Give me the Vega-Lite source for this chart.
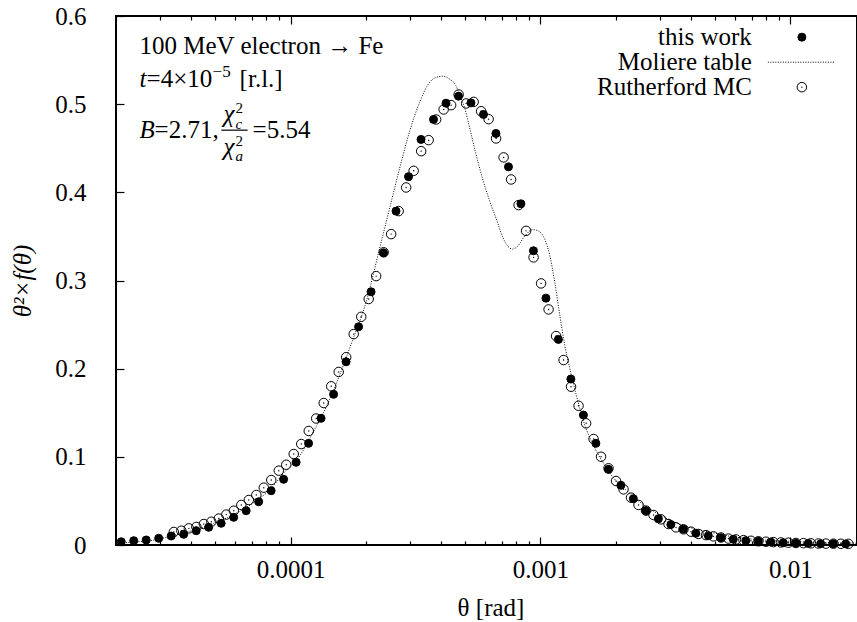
{
  "$schema": "https://vega.github.io/schema/vega-lite/v6.json",
  "width": 741,
  "height": 529,
  "autosize": {"type": "none"},
  "padding": {"left": 116, "top": 16, "right": 0, "bottom": 77},
  "background": "white",
  "config": {
    "font": "Liberation Serif",
    "view": {"stroke": "black", "strokeWidth": 2},
    "axis": {
      "labelFont": "Liberation Serif", "labelFontSize": 25, "labelColor": "black",
      "tickColor": "black", "tickWidth": 1.2, "domain": false, "grid": false,
      "titleFont": "Liberation Serif", "titleFontSize": 25, "titleColor": "black", "titleFontWeight": "normal",
      "labelFlush": false, "labelOverlap": false
    },
    "text": {"font": "Liberation Serif", "fontSize": 25, "color": "black", "align": "left", "baseline": "alphabetic"}
  },
  "data": {
    "values": [
      {"series": "this work", "theta": 2.099e-5, "value": 0.0037},
      {"series": "this work", "theta": 2.355e-5, "value": 0.0049},
      {"series": "this work", "theta": 2.642e-5, "value": 0.0057},
      {"series": "this work", "theta": 2.965e-5, "value": 0.0076},
      {"series": "this work", "theta": 3.327e-5, "value": 0.0102},
      {"series": "this work", "theta": 3.733e-5, "value": 0.0121},
      {"series": "this work", "theta": 4.188e-5, "value": 0.0162},
      {"series": "this work", "theta": 4.699e-5, "value": 0.0201},
      {"series": "this work", "theta": 5.272e-5, "value": 0.0246},
      {"series": "this work", "theta": 5.916e-5, "value": 0.0314},
      {"series": "this work", "theta": 6.638e-5, "value": 0.0389},
      {"series": "this work", "theta": 7.448e-5, "value": 0.0491},
      {"series": "this work", "theta": 8.356e-5, "value": 0.0616},
      {"series": "this work", "theta": 9.376e-5, "value": 0.0745},
      {"series": "this work", "theta": 1.052e-4, "value": 0.0938},
      {"series": "this work", "theta": 1.180e-4, "value": 0.1153},
      {"series": "this work", "theta": 1.324e-4, "value": 0.1437},
      {"series": "this work", "theta": 1.486e-4, "value": 0.1709},
      {"series": "this work", "theta": 1.667e-4, "value": 0.2078},
      {"series": "this work", "theta": 1.871e-4, "value": 0.2475},
      {"series": "this work", "theta": 2.099e-4, "value": 0.2872},
      {"series": "this work", "theta": 2.355e-4, "value": 0.3314},
      {"series": "this work", "theta": 2.642e-4, "value": 0.3787},
      {"series": "this work", "theta": 2.965e-4, "value": 0.4178},
      {"series": "this work", "theta": 3.327e-4, "value": 0.46},
      {"series": "this work", "theta": 3.733e-4, "value": 0.4827},
      {"series": "this work", "theta": 4.188e-4, "value": 0.5011},
      {"series": "this work", "theta": 4.699e-4, "value": 0.5091},
      {"series": "this work", "theta": 5.272e-4, "value": 0.5015},
      {"series": "this work", "theta": 5.916e-4, "value": 0.4884},
      {"series": "this work", "theta": 6.638e-4, "value": 0.4668},
      {"series": "this work", "theta": 7.448e-4, "value": 0.4289},
      {"series": "this work", "theta": 8.356e-4, "value": 0.387},
      {"series": "this work", "theta": 9.376e-4, "value": 0.3337},
      {"series": "this work", "theta": 1.052e-3, "value": 0.28},
      {"series": "this work", "theta": 1.180e-3, "value": 0.2332},
      {"series": "this work", "theta": 1.324e-3, "value": 0.1882},
      {"series": "this work", "theta": 1.486e-3, "value": 0.1474},
      {"series": "this work", "theta": 1.667e-3, "value": 0.1153},
      {"series": "this work", "theta": 1.871e-3, "value": 0.0858},
      {"series": "this work", "theta": 2.099e-3, "value": 0.0677},
      {"series": "this work", "theta": 2.355e-3, "value": 0.0525},
      {"series": "this work", "theta": 2.642e-3, "value": 0.0389},
      {"series": "this work", "theta": 2.965e-3, "value": 0.0297},
      {"series": "this work", "theta": 3.327e-3, "value": 0.0232},
      {"series": "this work", "theta": 3.733e-3, "value": 0.0179},
      {"series": "this work", "theta": 4.188e-3, "value": 0.0133},
      {"series": "this work", "theta": 4.699e-3, "value": 0.0105},
      {"series": "this work", "theta": 5.272e-3, "value": 0.0083},
      {"series": "this work", "theta": 5.916e-3, "value": 0.0065},
      {"series": "this work", "theta": 6.638e-3, "value": 0.0049},
      {"series": "this work", "theta": 7.448e-3, "value": 0.0042},
      {"series": "this work", "theta": 8.356e-3, "value": 0.0034},
      {"series": "this work", "theta": 9.376e-3, "value": 0.0026},
      {"series": "this work", "theta": 1.052e-2, "value": 0.0020},
      {"series": "this work", "theta": 1.180e-2, "value": 0.0018},
      {"series": "this work", "theta": 1.324e-2, "value": 0.0015},
      {"series": "this work", "theta": 1.486e-2, "value": 0.0014},
      {"series": "this work", "theta": 1.667e-2, "value": 0.0012},

      {"series": "Rutherford MC", "theta": 3.409e-5, "value": 0.0148},
      {"series": "Rutherford MC", "theta": 3.653e-5, "value": 0.0162},
      {"series": "Rutherford MC", "theta": 3.914e-5, "value": 0.0189},
      {"series": "Rutherford MC", "theta": 4.194e-5, "value": 0.0205},
      {"series": "Rutherford MC", "theta": 4.494e-5, "value": 0.0238},
      {"series": "Rutherford MC", "theta": 4.815e-5, "value": 0.0264},
      {"series": "Rutherford MC", "theta": 5.160e-5, "value": 0.030},
      {"series": "Rutherford MC", "theta": 5.529e-5, "value": 0.0345},
      {"series": "Rutherford MC", "theta": 5.924e-5, "value": 0.0389},
      {"series": "Rutherford MC", "theta": 6.348e-5, "value": 0.0454},
      {"series": "Rutherford MC", "theta": 6.802e-5, "value": 0.051},
      {"series": "Rutherford MC", "theta": 7.289e-5, "value": 0.0567},
      {"series": "Rutherford MC", "theta": 7.810e-5, "value": 0.065},
      {"series": "Rutherford MC", "theta": 8.368e-5, "value": 0.0737},
      {"series": "Rutherford MC", "theta": 8.967e-5, "value": 0.0843},
      {"series": "Rutherford MC", "theta": 9.607e-5, "value": 0.091},
      {"series": "Rutherford MC", "theta": 1.029e-4, "value": 0.1032},
      {"series": "Rutherford MC", "theta": 1.103e-4, "value": 0.1145},
      {"series": "Rutherford MC", "theta": 1.182e-4, "value": 0.1293},
      {"series": "Rutherford MC", "theta": 1.266e-4, "value": 0.1435},
      {"series": "Rutherford MC", "theta": 1.357e-4, "value": 0.161},
      {"series": "Rutherford MC", "theta": 1.454e-4, "value": 0.18},
      {"series": "Rutherford MC", "theta": 1.558e-4, "value": 0.1963},
      {"series": "Rutherford MC", "theta": 1.669e-4, "value": 0.213},
      {"series": "Rutherford MC", "theta": 1.789e-4, "value": 0.2392},
      {"series": "Rutherford MC", "theta": 1.917e-4, "value": 0.2588},
      {"series": "Rutherford MC", "theta": 2.054e-4, "value": 0.279},
      {"series": "Rutherford MC", "theta": 2.200e-4, "value": 0.305},
      {"series": "Rutherford MC", "theta": 2.358e-4, "value": 0.332},
      {"series": "Rutherford MC", "theta": 2.526e-4, "value": 0.3526},
      {"series": "Rutherford MC", "theta": 2.707e-4, "value": 0.3787},
      {"series": "Rutherford MC", "theta": 2.901e-4, "value": 0.4055},
      {"series": "Rutherford MC", "theta": 3.108e-4, "value": 0.4244},
      {"series": "Rutherford MC", "theta": 3.331e-4, "value": 0.4467},
      {"series": "Rutherford MC", "theta": 3.569e-4, "value": 0.4592},
      {"series": "Rutherford MC", "theta": 3.824e-4, "value": 0.4826},
      {"series": "Rutherford MC", "theta": 4.098e-4, "value": 0.494},
      {"series": "Rutherford MC", "theta": 4.391e-4, "value": 0.4989},
      {"series": "Rutherford MC", "theta": 4.705e-4, "value": 0.511},
      {"series": "Rutherford MC", "theta": 5.041e-4, "value": 0.5008},
      {"series": "Rutherford MC", "theta": 5.402e-4, "value": 0.5026},
      {"series": "Rutherford MC", "theta": 5.788e-4, "value": 0.492},
      {"series": "Rutherford MC", "theta": 6.202e-4, "value": 0.483},
      {"series": "Rutherford MC", "theta": 6.645e-4, "value": 0.4611},
      {"series": "Rutherford MC", "theta": 7.121e-4, "value": 0.4396},
      {"series": "Rutherford MC", "theta": 7.630e-4, "value": 0.4146},
      {"series": "Rutherford MC", "theta": 8.176e-4, "value": 0.3855},
      {"series": "Rutherford MC", "theta": 8.760e-4, "value": 0.3563},
      {"series": "Rutherford MC", "theta": 9.387e-4, "value": 0.3262},
      {"series": "Rutherford MC", "theta": 1.006e-3, "value": 0.2967},
      {"series": "Rutherford MC", "theta": 1.078e-3, "value": 0.2672},
      {"series": "Rutherford MC", "theta": 1.155e-3, "value": 0.237},
      {"series": "Rutherford MC", "theta": 1.238e-3, "value": 0.2098},
      {"series": "Rutherford MC", "theta": 1.326e-3, "value": 0.1795},
      {"series": "Rutherford MC", "theta": 1.421e-3, "value": 0.1579},
      {"series": "Rutherford MC", "theta": 1.523e-3, "value": 0.138},
      {"series": "Rutherford MC", "theta": 1.632e-3, "value": 0.1202},
      {"series": "Rutherford MC", "theta": 1.748e-3, "value": 0.1001},
      {"series": "Rutherford MC", "theta": 1.873e-3, "value": 0.087},
      {"series": "Rutherford MC", "theta": 2.007e-3, "value": 0.0726},
      {"series": "Rutherford MC", "theta": 2.151e-3, "value": 0.0631},
      {"series": "Rutherford MC", "theta": 2.305e-3, "value": 0.0537},
      {"series": "Rutherford MC", "theta": 2.470e-3, "value": 0.0454},
      {"series": "Rutherford MC", "theta": 2.646e-3, "value": 0.039},
      {"series": "Rutherford MC", "theta": 2.836e-3, "value": 0.034},
      {"series": "Rutherford MC", "theta": 3.039e-3, "value": 0.0291},
      {"series": "Rutherford MC", "theta": 3.256e-3, "value": 0.0238},
      {"series": "Rutherford MC", "theta": 3.489e-3, "value": 0.02},
      {"series": "Rutherford MC", "theta": 3.738e-3, "value": 0.0178},
      {"series": "Rutherford MC", "theta": 4.006e-3, "value": 0.0151},
      {"series": "Rutherford MC", "theta": 4.292e-3, "value": 0.0125},
      {"series": "Rutherford MC", "theta": 4.599e-3, "value": 0.0112},
      {"series": "Rutherford MC", "theta": 4.928e-3, "value": 0.0098},
      {"series": "Rutherford MC", "theta": 5.281e-3, "value": 0.0085},
      {"series": "Rutherford MC", "theta": 5.658e-3, "value": 0.0073},
      {"series": "Rutherford MC", "theta": 6.063e-3, "value": 0.0063},
      {"series": "Rutherford MC", "theta": 6.496e-3, "value": 0.0055},
      {"series": "Rutherford MC", "theta": 6.961e-3, "value": 0.0048},
      {"series": "Rutherford MC", "theta": 7.459e-3, "value": 0.0042},
      {"series": "Rutherford MC", "theta": 7.992e-3, "value": 0.0037},
      {"series": "Rutherford MC", "theta": 8.564e-3, "value": 0.0033},
      {"series": "Rutherford MC", "theta": 9.176e-3, "value": 0.0029},
      {"series": "Rutherford MC", "theta": 9.832e-3, "value": 0.0026},
      {"series": "Rutherford MC", "theta": 1.0535e-2, "value": 0.0023},
      {"series": "Rutherford MC", "theta": 1.1289e-2, "value": 0.0021},
      {"series": "Rutherford MC", "theta": 1.2096e-2, "value": 0.0019},
      {"series": "Rutherford MC", "theta": 1.2962e-2, "value": 0.0017},
      {"series": "Rutherford MC", "theta": 1.3889e-2, "value": 0.0016},
      {"series": "Rutherford MC", "theta": 1.4882e-2, "value": 0.0015},
      {"series": "Rutherford MC", "theta": 1.5947e-2, "value": 0.0014},
      {"series": "Rutherford MC", "theta": 1.7088e-2, "value": 0.0013},

      {"series": "Moliere table", "theta": 2.0e-5, "value": 0.0017},
      {"series": "Moliere table", "theta": 2.372e-5, "value": 0.0034},
      {"series": "Moliere table", "theta": 2.853e-5, "value": 0.0057},
      {"series": "Moliere table", "theta": 3.431e-5, "value": 0.0113},
      {"series": "Moliere table", "theta": 4.126e-5, "value": 0.017},
      {"series": "Moliere table", "theta": 4.962e-5, "value": 0.025},
      {"series": "Moliere table", "theta": 5.967e-5, "value": 0.035},
      {"series": "Moliere table", "theta": 7.175e-5, "value": 0.0488},
      {"series": "Moliere table", "theta": 8.24e-5, "value": 0.0624},
      {"series": "Moliere table", "theta": 9.462e-5, "value": 0.0828},
      {"series": "Moliere table", "theta": 1.086e-4, "value": 0.1009},
      {"series": "Moliere table", "theta": 1.225e-4, "value": 0.127},
      {"series": "Moliere table", "theta": 1.394e-4, "value": 0.1576},
      {"series": "Moliere table", "theta": 1.571e-4, "value": 0.1927},
      {"series": "Moliere table", "theta": 1.771e-4, "value": 0.2324},
      {"series": "Moliere table", "theta": 2.016e-4, "value": 0.2778},
      {"series": "Moliere table", "theta": 2.272e-4, "value": 0.3367},
      {"series": "Moliere table", "theta": 2.492e-4, "value": 0.3821},
      {"series": "Moliere table", "theta": 2.732e-4, "value": 0.4274},
      {"series": "Moliere table", "theta": 2.997e-4, "value": 0.4694},
      {"series": "Moliere table", "theta": 3.286e-4, "value": 0.5023},
      {"series": "Moliere table", "theta": 3.604e-4, "value": 0.525},
      {"series": "Moliere table", "theta": 3.843e-4, "value": 0.5306},
      {"series": "Moliere table", "theta": 4.062e-4, "value": 0.5317},
      {"series": "Moliere table", "theta": 4.334e-4, "value": 0.5283},
      {"series": "Moliere table", "theta": 4.58e-4, "value": 0.5215},
      {"series": "Moliere table", "theta": 4.752e-4, "value": 0.5102},
      {"series": "Moliere table", "theta": 4.976e-4, "value": 0.4955},
      {"series": "Moliere table", "theta": 5.212e-4, "value": 0.4728},
      {"series": "Moliere table", "theta": 5.508e-4, "value": 0.4444},
      {"series": "Moliere table", "theta": 5.874e-4, "value": 0.415},
      {"series": "Moliere table", "theta": 6.265e-4, "value": 0.39},
      {"series": "Moliere table", "theta": 6.683e-4, "value": 0.3685},
      {"series": "Moliere table", "theta": 7.063e-4, "value": 0.3492},
      {"series": "Moliere table", "theta": 7.396e-4, "value": 0.339},
      {"series": "Moliere table", "theta": 7.746e-4, "value": 0.3356},
      {"series": "Moliere table", "theta": 8.111e-4, "value": 0.339},
      {"series": "Moliere table", "theta": 8.651e-4, "value": 0.3503},
      {"series": "Moliere table", "theta": 9.316e-4, "value": 0.3577},
      {"series": "Moliere table", "theta": 9.845e-4, "value": 0.356},
      {"series": "Moliere table", "theta": 1.040e-3, "value": 0.3469},
      {"series": "Moliere table", "theta": 1.089e-3, "value": 0.3288},
      {"series": "Moliere table", "theta": 1.141e-3, "value": 0.2982},
      {"series": "Moliere table", "theta": 1.195e-3, "value": 0.2608},
      {"series": "Moliere table", "theta": 1.251e-3, "value": 0.2268},
      {"series": "Moliere table", "theta": 1.310e-3, "value": 0.2007},
      {"series": "Moliere table", "theta": 1.398e-3, "value": 0.1678},
      {"series": "Moliere table", "theta": 1.505e-3, "value": 0.136},
      {"series": "Moliere table", "theta": 1.635e-3, "value": 0.1122},
      {"series": "Moliere table", "theta": 1.776e-3, "value": 0.0941},
      {"series": "Moliere table", "theta": 1.948e-3, "value": 0.0771},
      {"series": "Moliere table", "theta": 2.176e-3, "value": 0.0635},
      {"series": "Moliere table", "theta": 2.499e-3, "value": 0.0488},
      {"series": "Moliere table", "theta": 2.869e-3, "value": 0.0374},
      {"series": "Moliere table", "theta": 3.295e-3, "value": 0.0283},
      {"series": "Moliere table", "theta": 3.962e-3, "value": 0.0198},
      {"series": "Moliere table", "theta": 4.764e-3, "value": 0.0147},
      {"series": "Moliere table", "theta": 6.0e-3, "value": 0.009},
      {"series": "Moliere table", "theta": 7.553e-3, "value": 0.006},
      {"series": "Moliere table", "theta": 9.963e-3, "value": 0.0042},
      {"series": "Moliere table", "theta": 1.314e-2, "value": 0.003},
      {"series": "Moliere table", "theta": 1.848e-2, "value": 0.0021}
    ]
  },
  "resolve": {"axis": {"x": "independent", "y": "independent"}},
  "layer": [
    {
      "transform": [{"filter": "datum.series === 'Moliere table'"}],
      "mark": {"type": "line", "stroke": "black", "strokeWidth": 1, "strokeDash": [1, 1.5], "interpolate": "monotone"},
      "encoding": {
        "x": {"field": "theta", "type": "quantitative", "scale": {"type": "log", "domain": [2e-5, 0.0185], "nice": false},
              "axis": {"orient": "bottom", "values": [2e-5, 3e-5, 4e-5, 5e-5, 6e-5, 7e-5, 8e-5, 9e-5, 2e-4, 3e-4, 4e-4, 5e-4, 6e-4, 7e-4, 8e-4, 9e-4, 2e-3, 3e-3, 4e-3, 5e-3, 6e-3, 7e-3, 8e-3, 9e-3], "labels": false, "tickSize": -4, "title": null}},
        "y": {"field": "value", "type": "quantitative", "scale": {"domain": [0, 0.6], "nice": false}, "axis": null}
      }
    },
    {
      "transform": [{"filter": "datum.series !== 'Moliere table'"}],
      "mark": {"type": "point", "filled": true, "shape": "circle", "stroke": "black", "strokeWidth": 1, "opacity": 1},
      "encoding": {
        "x": {"field": "theta", "type": "quantitative",
              "axis": {"orient": "bottom", "values": [0.0001, 0.001, 0.01], "format": "~g", "tickSize": -8, "labelPadding": 20.5,
                       "title": "θ [rad]", "titleX": 374.5, "titleY": 70, "titleBaseline": "alphabetic", "titleAlign": "center", "titleAngle": 0}},
        "y": {"field": "value", "type": "quantitative",
              "axis": {"orient": "left", "values": [0, 0.1, 0.2, 0.3, 0.4, 0.5, 0.6], "format": "~g", "tickSize": -8, "labelPadding": 38,
                       "title": "θ²×f(θ)", "titleFontStyle": "italic", "titleX": -86, "titleY": 264.5, "titleAngle": -90, "titleAlign": "center", "titleBaseline": "alphabetic"}},
        "fill": {"field": "series", "type": "nominal",
                 "scale": {"domain": ["this work", "Rutherford MC"], "range": ["black", "transparent"]},
                 "legend": null},
        "size": {"condition": {"test": "datum.series === 'this work'", "value": 64}, "value": 90}
      }
    },
    {
      "transform": [{"filter": "datum.series === 'Rutherford MC'"}],
      "mark": {"type": "circle", "size": 2, "color": "black", "opacity": 1},
      "encoding": {
        "x": {"field": "theta", "type": "quantitative",
              "axis": {"orient": "top", "values": [0.0001, 0.001, 0.01], "labels": false, "tickSize": -8, "title": null}},
        "y": {"field": "value", "type": "quantitative", "axis": null}
      }
    },
    {
      "data": {"values": [{}]},
      "mark": {"type": "text"},
      "encoding": {
        "x": {"datum": 2.484e-5, "type": "quantitative",
              "axis": {"orient": "top", "values": [2e-5, 3e-5, 4e-5, 5e-5, 6e-5, 7e-5, 8e-5, 9e-5, 2e-4, 3e-4, 4e-4, 5e-4, 6e-4, 7e-4, 8e-4, 9e-4, 2e-3, 3e-3, 4e-3, 5e-3, 6e-3, 7e-3, 8e-3, 9e-3], "labels": false, "tickSize": -4, "title": null}},
        "y": {"datum": 0.5567, "type": "quantitative", "axis": null},
        "text": {"value": "100 MeV electron → Fe"}
      }
    },
    {"data": {"values": [{}]}, "mark": {"type": "text", "fontStyle": "italic"},
     "encoding": {"x": {"datum": 2.484e-5, "type": "quantitative", "axis": null}, "y": {"datum": 0.5196, "type": "quantitative", "axis": null}, "text": {"value": "t"}}},
    {"data": {"values": [{}]}, "mark": {"type": "text"},
     "encoding": {"x": {"datum": 2.651e-5, "type": "quantitative", "axis": null}, "y": {"datum": 0.5196, "type": "quantitative", "axis": null}, "text": {"value": "=4×10"}}},
    {"data": {"values": [{}]}, "mark": {"type": "text", "fontSize": 17},
     "encoding": {"x": {"datum": 4.871e-5, "type": "quantitative", "axis": null}, "y": {"datum": 0.5306, "type": "quantitative", "axis": null}, "text": {"value": "−5"}}},
    {"data": {"values": [{}]}, "mark": {"type": "text"},
     "encoding": {"x": {"datum": 6.249e-5, "type": "quantitative", "axis": null}, "y": {"datum": 0.5196, "type": "quantitative", "axis": null}, "text": {"value": "[r.l.]"}}},
    {"data": {"values": [{}]}, "mark": {"type": "text", "fontStyle": "italic"},
     "encoding": {"x": {"datum": 2.484e-5, "type": "quantitative", "axis": null}, "y": {"datum": 0.4615, "type": "quantitative", "axis": null}, "text": {"value": "B"}}},
    {"data": {"values": [{}]}, "mark": {"type": "text"},
     "encoding": {"x": {"datum": 2.853e-5, "type": "quantitative", "axis": null}, "y": {"datum": 0.4615, "type": "quantitative", "axis": null}, "text": {"value": "=2.71,"}}},
    {"data": {"values": [{}]}, "mark": {"type": "text", "fontStyle": "italic"},
     "encoding": {"x": {"datum": 5.391e-5, "type": "quantitative", "axis": null}, "y": {"datum": 0.4796, "type": "quantitative", "axis": null}, "text": {"value": "χ"}}},
    {"data": {"values": [{}]}, "mark": {"type": "text", "fontSize": 15},
     "encoding": {"x": {"datum": 6.022e-5, "type": "quantitative", "axis": null}, "y": {"datum": 0.4898, "type": "quantitative", "axis": null}, "text": {"value": "2"}}},
    {"data": {"values": [{}]}, "mark": {"type": "text", "fontSize": 15, "fontStyle": "italic"},
     "encoding": {"x": {"datum": 6.022e-5, "type": "quantitative", "axis": null}, "y": {"datum": 0.4717, "type": "quantitative", "axis": null}, "text": {"value": "c"}}},
    {"data": {"values": [{}]}, "mark": {"type": "text", "fontStyle": "italic"},
     "encoding": {"x": {"datum": 5.391e-5, "type": "quantitative", "axis": null}, "y": {"datum": 0.4422, "type": "quantitative", "axis": null}, "text": {"value": "χ"}}},
    {"data": {"values": [{}]}, "mark": {"type": "text", "fontSize": 15},
     "encoding": {"x": {"datum": 6.022e-5, "type": "quantitative", "axis": null}, "y": {"datum": 0.4524, "type": "quantitative", "axis": null}, "text": {"value": "2"}}},
    {"data": {"values": [{}]}, "mark": {"type": "text", "fontSize": 15, "fontStyle": "italic"},
     "encoding": {"x": {"datum": 6.022e-5, "type": "quantitative", "axis": null}, "y": {"datum": 0.4354, "type": "quantitative", "axis": null}, "text": {"value": "a"}}},
    {"data": {"values": [{}]}, "mark": {"type": "text"},
     "encoding": {"x": {"datum": 7.044e-5, "type": "quantitative", "axis": null}, "y": {"datum": 0.4615, "type": "quantitative", "axis": null}, "text": {"value": "=5.54"}}},
    {"data": {"values": [{}]}, "mark": {"type": "rule", "color": "black", "strokeWidth": 1.2},
     "encoding": {"x": {"datum": 5.280e-5, "type": "quantitative", "axis": null}, "x2": {"datum": 6.727e-5}, "y": {"datum": 0.4705, "type": "quantitative", "axis": null}}},

    {"data": {"values": [{}]}, "mark": {"type": "text", "align": "right"},
     "encoding": {"x": {"datum": 7.018e-3, "type": "quantitative", "axis": null}, "y": {"datum": 0.5669, "type": "quantitative", "axis": null}, "text": {"value": "this work"}}},
    {"data": {"values": [{}]}, "mark": {"type": "text", "align": "right"},
     "encoding": {"x": {"datum": 7.018e-3, "type": "quantitative", "axis": null}, "y": {"datum": 0.5385, "type": "quantitative", "axis": null}, "text": {"value": "Moliere table"}}},
    {"data": {"values": [{}]}, "mark": {"type": "text", "align": "right"},
     "encoding": {"x": {"datum": 7.018e-3, "type": "quantitative", "axis": null}, "y": {"datum": 0.5102, "type": "quantitative", "axis": null}, "text": {"value": "Rutherford MC"}}},
    {"data": {"values": [{}]}, "mark": {"type": "point", "shape": "circle", "filled": true, "fill": "black", "stroke": "black", "strokeWidth": 1, "size": 64, "opacity": 1},
     "encoding": {"x": {"datum": 1.1131e-2, "type": "quantitative", "axis": null}, "y": {"datum": 0.576, "type": "quantitative", "axis": null}}},
    {"data": {"values": [{}]}, "mark": {"type": "rule", "color": "black", "strokeWidth": 1, "strokeDash": [1, 1.5]},
     "encoding": {"x": {"datum": 8.134e-3, "type": "quantitative", "axis": null}, "x2": {"datum": 1.5089e-2}, "y": {"datum": 0.5476, "type": "quantitative", "axis": null}}},
    {"data": {"values": [{}]}, "mark": {"type": "point", "shape": "circle", "filled": false, "fill": "transparent", "stroke": "black", "strokeWidth": 1, "size": 90, "opacity": 1},
     "encoding": {"x": {"datum": 1.1131e-2, "type": "quantitative", "axis": null}, "y": {"datum": 0.5193, "type": "quantitative", "axis": null}}},
    {"data": {"values": [{}]}, "mark": {"type": "circle", "size": 2, "color": "black", "opacity": 1},
     "encoding": {"x": {"datum": 1.1131e-2, "type": "quantitative", "axis": null}, "y": {"datum": 0.5193, "type": "quantitative", "axis": null}}}
  ]
}
